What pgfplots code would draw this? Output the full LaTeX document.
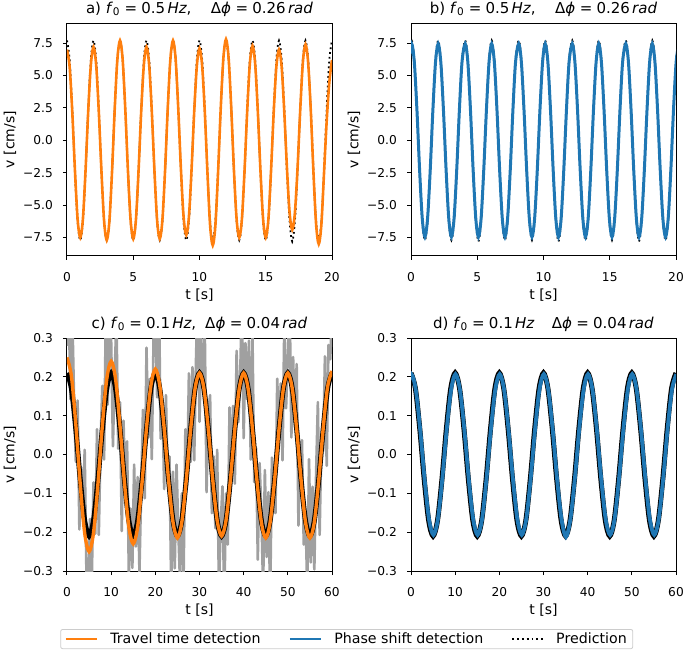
\documentclass[border=0pt]{standalone}
\usepackage{fontspec}
\setmainfont{DejaVu Sans}
\usepackage{pgfplots}
\pgfplotsset{compat=1.18}
\definecolor{mplorange}{HTML}{FF7F0E}
\definecolor{mplblue}{HTML}{1F77B4}
\definecolor{mplgray}{RGB}{160,160,160}
\definecolor{legframe}{RGB}{204,204,204}
\newcommand{\fs}{\fontsize{12.2}{14}\selectfont}
\newcommand{\fl}{\fontsize{14}{16}\selectfont}
\newcommand{\ft}{\fontsize{15}{17}\selectfont}
\newcommand{\eq}{\hspace{0.3em}=\hspace{0.28em}}
\pgfplotsset{
  myaxis/.style={
    scale only axis, width=265pt, height=233pt,
    axis line style={black, line width=1pt},
    tick align=outside, tick pos=left,
    major tick length=4pt,
    tick style={black, line width=1pt},
    ticklabel style={font=\fs, inner sep=0pt},
    yticklabel style={anchor=east, xshift=-10pt},
    xticklabel style={anchor=north, yshift=-12pt},
    label style={font=\fl},
    ylabel={v [cm/s]}, xlabel={t [s]},
    ylabel style={at={(axis description cs:-0.215,0.5)}, anchor=center},
    xlabel style={at={(axis description cs:0.5,0)}, anchor=center, yshift=-39pt},
    title style={font=\ft, at={(axis description cs:0.5,1)}, anchor=base, yshift=4pt},
  },
  toprow/.style={myaxis, xmin=0, xmax=20, ymin=-8.92, ymax=9.05,
    xtick={0,5,10,15,20}, xticklabels={0,5,10,15,20},
    ytick={-7.5,-5,-2.5,0,2.5,5,7.5},
    yticklabels={−7.5,−5.0,−2.5,0.0,2.5,5.0,7.5}},
  botrow/.style={myaxis, xmin=0, xmax=60, ymin=-0.3, ymax=0.3,
    xtick={0,10,20,30,40,50,60}, xticklabels={0,10,20,30,40,50,60},
    ytick={-0.3,-0.2,-0.1,0,0.1,0.2,0.3},
    yticklabels={−0.3,−0.2,−0.1,0.0,0.1,0.2,0.3}},
  pred/.style={black, line width=1.8pt, dash pattern=on 1.8pt off 3pt},
}
\newcommand{\predcd}{(0,0.210)(1,0.170)(2,0.065)(3,-0.065)(4,-0.170)(5,-0.210)(6,-0.170)(7,-0.065)(8,0.065)(9,0.170)
(10,0.210)(11,0.170)(12,0.065)(13,-0.065)(14,-0.170)(15,-0.210)(16,-0.170)(17,-0.065)(18,0.065)(19,0.170)
(20,0.210)(21,0.170)(22,0.065)(23,-0.065)(24,-0.170)(25,-0.210)(26,-0.170)(27,-0.065)(28,0.065)(29,0.170)
(30,0.210)(31,0.170)(32,0.065)(33,-0.065)(34,-0.170)(35,-0.210)(36,-0.170)(37,-0.065)(38,0.065)(39,0.170)
(40,0.210)(41,0.170)(42,0.065)(43,-0.065)(44,-0.170)(45,-0.210)(46,-0.170)(47,-0.065)(48,0.065)(49,0.170)
(50,0.210)(51,0.170)(52,0.065)(53,-0.065)(54,-0.170)(55,-0.210)(56,-0.170)(57,-0.065)(58,0.065)(59,0.170)(60,0.210)}
\begin{document}
\begin{tikzpicture}[font=\fs]
\useasboundingbox (0,0) rectangle (685pt,-656pt);
% ---------------- a)
\begin{axis}[toprow, at={(67pt,-23pt)}, anchor=north west,
  title={a) \textit{f}\textsubscript{0}\eq0.5\hspace{0.15em}\textit{Hz},\hspace{1.3em}Δ\textit{ϕ}\eq0.26\hspace{0.15em}\textit{rad}}]
\addplot[pred, smooth] coordinates {
(0,7.7)(0.2,6.23)(0.4,2.38)(0.6,-2.38)(0.8,-6.23)(1,-7.7)(1.2,-6.23)(1.4,-2.38)(1.6,2.38)(1.8,6.23)
(2,7.7)(2.2,6.23)(2.4,2.38)(2.6,-2.38)(2.8,-6.23)(3,-7.7)(3.2,-6.23)(3.4,-2.38)(3.6,2.38)(3.8,6.23)
(4,7.7)(4.2,6.23)(4.4,2.38)(4.6,-2.38)(4.8,-6.23)(5,-7.7)(5.2,-6.23)(5.4,-2.38)(5.6,2.38)(5.8,6.23)
(6,7.7)(6.2,6.23)(6.4,2.38)(6.6,-2.38)(6.8,-6.23)(7,-7.7)(7.2,-6.23)(7.4,-2.38)(7.6,2.38)(7.8,6.23)
(8,7.7)(8.2,6.23)(8.4,2.38)(8.6,-2.38)(8.8,-6.23)(9,-7.7)(9.2,-6.23)(9.4,-2.38)(9.6,2.38)(9.8,6.23)
(10,7.7)(10.2,6.23)(10.4,2.38)(10.6,-2.38)(10.8,-6.23)(11,-7.8)(11.2,-6.23)(11.4,-2.38)(11.6,2.38)(11.8,6.23)
(12,7.7)(12.2,6.23)(12.4,2.38)(12.6,-2.38)(12.8,-6.23)(13,-7.7)(13.2,-6.23)(13.4,-2.38)(13.6,2.38)(13.8,6.23)
(14,7.7)(14.2,6.23)(14.4,2.38)(14.6,-2.38)(14.8,-6.23)(15,-7.7)(15.2,-6.23)(15.4,-2.38)(15.6,2.38)(15.8,6.23)
(16,7.7)(16.2,6.23)(16.4,2.38)(16.6,-2.38)(16.8,-6.23)(17,-7.8)(17.2,-6.23)(17.4,-2.38)(17.6,2.38)(17.8,6.23)
(18,7.7)(18.2,6.23)(18.4,2.38)(18.6,-2.38)(18.8,-6.23)(19,-7.7)(19.2,-6.23)(19.4,-2.38)(19.6,2.38)(19.8,6.23)(20,7.7)};
\addplot[mplorange, line width=2.6pt, smooth] coordinates {
(0,7.0)(0.2,5.66)(0.4,2.16)(0.6,-2.32)(0.8,-6.07)(1,-7.5)(1.2,-6.07)(1.4,-2.32)(1.6,2.22)(1.8,5.82)
(2,7.2)(2.2,5.82)(2.4,2.22)(2.6,-2.38)(2.8,-6.23)(3,-7.7)(3.2,-6.23)(3.4,-2.38)(3.6,2.38)(3.8,6.23)
(4,7.7)(4.2,6.23)(4.4,2.38)(4.6,-2.35)(4.8,-6.15)(5,-7.6)(5.2,-6.15)(5.4,-2.35)(5.6,2.22)(5.8,5.82)
(6,7.2)(6.2,5.82)(6.4,2.22)(6.6,-2.35)(6.8,-6.15)(7,-7.6)(7.2,-6.15)(7.4,-2.35)(7.6,2.38)(7.8,6.23)
(8,7.7)(8.2,6.23)(8.4,2.38)(8.6,-2.26)(8.8,-5.91)(9,-7.3)(9.2,-5.91)(9.4,-2.26)(9.6,2.19)(9.8,5.74)
(10,7.1)(10.2,5.74)(10.4,2.19)(10.6,-2.50)(10.8,-6.55)(11,-8.1)(11.2,-6.55)(11.4,-2.50)(11.6,2.41)(11.8,6.31)
(12,7.8)(12.2,6.31)(12.4,2.41)(12.6,-2.32)(12.8,-6.07)(13,-7.5)(13.2,-6.07)(13.4,-2.32)(13.6,2.26)(13.8,5.91)
(14,7.3)(14.2,5.91)(14.4,2.26)(14.6,-2.32)(14.8,-6.07)(15,-7.5)(15.2,-6.07)(15.4,-2.32)(15.6,2.16)(15.8,5.66)
(16,7.0)(16.2,5.66)(16.4,2.16)(16.6,-2.13)(16.8,-5.58)(17,-6.9)(17.2,-5.58)(17.4,-2.13)(17.6,2.29)(17.8,5.99)
(18,7.4)(18.2,5.99)(18.4,2.29)(18.6,-2.47)(18.8,-6.47)(19,-8.0)(19.2,-6.47)(19.4,-2.47)(19.6,1.5)(19.8,4.5)(20,6.2)};
\end{axis}
% ---------------- b)
\begin{axis}[toprow, at={(411pt,-23pt)}, anchor=north west,
  title={b) \textit{f}\textsubscript{0}\eq0.5\hspace{0.15em}\textit{Hz},\hspace{1.3em}Δ\textit{ϕ}\eq0.26\hspace{0.15em}\textit{rad}}]
\addplot[pred, smooth] coordinates {
(-0.15,6.23)(0.05,7.7)(0.25,6.23)(0.45,2.38)(0.65,-2.38)(0.85,-6.23)(1.05,-7.7)(1.25,-6.23)(1.45,-2.38)(1.65,2.38)(1.85,6.23)
(2.05,7.7)(2.25,6.23)(2.45,2.38)(2.65,-2.38)(2.85,-6.23)(3.05,-7.7)(3.25,-6.23)(3.45,-2.38)(3.65,2.38)(3.85,6.23)
(4.09,7.7)(4.29,6.23)(4.49,2.38)(4.69,-2.38)(4.89,-6.23)(5.09,-7.8)(5.29,-6.23)(5.49,-2.38)(5.69,2.38)(5.89,6.23)
(6.09,7.7)(6.29,6.23)(6.49,2.38)(6.69,-2.38)(6.89,-6.23)(7.09,-7.7)(7.29,-6.23)(7.49,-2.38)(7.69,2.38)(7.89,6.23)
(8.13,7.7)(8.33,6.23)(8.53,2.38)(8.73,-2.38)(8.93,-6.23)(9.13,-7.7)(9.33,-6.23)(9.53,-2.38)(9.73,2.38)(9.93,6.23)
(10.13,7.7)(10.33,6.23)(10.53,2.38)(10.73,-2.38)(10.93,-6.23)(11.13,-7.8)(11.33,-6.23)(11.53,-2.38)(11.73,2.38)(11.93,6.23)
(12.17,7.7)(12.37,6.23)(12.57,2.38)(12.77,-2.38)(12.97,-6.23)(13.17,-7.7)(13.37,-6.23)(13.57,-2.38)(13.77,2.38)(13.97,6.23)
(14.17,7.7)(14.37,6.23)(14.57,2.38)(14.77,-2.38)(14.97,-6.23)(15.17,-7.7)(15.37,-6.23)(15.57,-2.38)(15.77,2.38)(15.97,6.23)
(16.21,7.7)(16.41,6.23)(16.61,2.38)(16.81,-2.38)(17.01,-6.23)(17.21,-7.8)(17.41,-6.23)(17.61,-2.38)(17.81,2.38)(18.01,6.23)
(18.21,7.7)(18.41,6.23)(18.61,2.38)(18.81,-2.38)(19.01,-6.23)(19.21,-7.7)(19.41,-6.23)(19.61,-2.38)(19.81,2.38)(20.01,6.23)(20.21,7.7)};
\addplot[mplblue, line width=3pt, smooth] coordinates {
(-0.15,6.03)(0.05,7.45)(0.25,6.03)(0.45,2.30)(0.65,-2.30)(0.85,-6.03)(1.05,-7.45)(1.25,-6.03)(1.45,-2.30)(1.65,2.30)(1.85,6.03)
(2.05,7.45)(2.25,6.03)(2.45,2.30)(2.65,-2.30)(2.85,-6.03)(3.05,-7.45)(3.25,-6.03)(3.45,-2.30)(3.65,2.30)(3.85,6.03)
(4.09,7.45)(4.29,6.03)(4.49,2.30)(4.69,-2.30)(4.89,-6.03)(5.09,-7.45)(5.29,-6.03)(5.49,-2.30)(5.69,2.30)(5.89,6.03)
(6.09,7.45)(6.29,6.03)(6.49,2.30)(6.69,-2.30)(6.89,-6.03)(7.09,-7.45)(7.29,-6.03)(7.49,-2.30)(7.69,2.30)(7.89,6.03)
(8.13,7.45)(8.33,6.03)(8.53,2.30)(8.73,-2.30)(8.93,-6.03)(9.13,-7.45)(9.33,-6.03)(9.53,-2.30)(9.73,2.30)(9.93,6.03)
(10.13,7.45)(10.33,6.03)(10.53,2.30)(10.73,-2.30)(10.93,-6.03)(11.13,-7.45)(11.33,-6.03)(11.53,-2.30)(11.73,2.30)(11.93,6.03)
(12.17,7.45)(12.37,6.03)(12.57,2.30)(12.77,-2.30)(12.97,-6.03)(13.17,-7.45)(13.37,-6.03)(13.57,-2.30)(13.77,2.30)(13.97,6.03)
(14.17,7.45)(14.37,6.03)(14.57,2.30)(14.77,-2.30)(14.97,-6.03)(15.17,-7.45)(15.37,-6.03)(15.57,-2.30)(15.77,2.30)(15.97,6.03)
(16.21,7.45)(16.41,6.03)(16.61,2.30)(16.81,-2.30)(17.01,-6.03)(17.21,-7.45)(17.41,-6.03)(17.61,-2.30)(17.81,2.30)(18.01,6.03)
(18.21,7.45)(18.41,6.03)(18.61,2.30)(18.81,-2.30)(19.01,-6.03)(19.21,-7.45)(19.41,-6.03)(19.61,-2.30)(19.81,2.30)(20.01,6.03)(20.21,7.45)};
\end{axis}
% ---------------- c)
\begin{axis}[botrow, at={(67pt,-338pt)}, anchor=north west,
  title={c) \textit{f}\textsubscript{0}\eq0.1\hspace{0.15em}\textit{Hz},\hspace{0.6em}Δ\textit{ϕ}\eq0.04\hspace{0.15em}\textit{rad}}]
\addplot[mplgray, line width=2.6pt, line join=round] coordinates {
(0,0.280)(0.4,0.371)(0.8,0.142)(1.2,0.363)(1.6,0.141)(2,-0.019)(2.4,0.139)(2.8,-0.193)(3.2,-0.033)(3.6,-0.162)
(4,0.012)(4.4,-0.307)(4.8,-0.404)(5.2,-0.166)(5.6,-0.335)(6,-0.072)(6.4,-0.204)(6.8,0.065)(7.2,-0.207)(7.6,0.027)
(8,0.177)(8.4,-0.013)(8.8,0.377)(9.2,0.128)(9.6,0.343)
(10,0.294)(10.4,0.021)(10.8,0.212)(11.2,0.349)(11.6,0.015)(12,0.135)(12.4,-0.197)(12.8,0.087)(13.2,-0.103)(13.6,0.034)
(14,-0.310)(14.4,-0.139)(14.8,-0.292)(15.2,-0.026)(15.6,-0.237)(16,-0.058)(16.4,-0.302)(16.8,-0.089)(17.2,0.115)(17.6,-0.113)
(18,0.275)(18.4,0.043)(18.8,0.195)(19.2,-0.012)(19.6,0.301)
(20,0.378)(20.4,0.147)(20.8,0.436)(21.2,0.041)(21.6,0.141)(22,-0.089)(22.4,0.153)(22.8,-0.067)(23.2,-0.005)(23.6,-0.358)
(24,-0.044)(24.4,-0.293)(24.8,-0.026)(25.2,-0.194)(25.6,-0.335)(26,-0.100)(26.4,-0.316)(26.8,0.065)(27.2,-0.081)(27.6,0.209)
(28,-0.019)(28.4,0.225)(28.8,-0.015)(29.2,0.240)(29.6,0.427)
(30,0.084)(30.4,0.301)(30.8,0.170)(31.2,0.321)(31.6,-0.097)(32,0.107)(32.4,0.153)(32.8,-0.151)(33.2,-0.005)(33.6,-0.190)
(34,0.012)(34.4,-0.349)(34.8,-0.180)(35.2,-0.082)(35.6,-0.391)(36,-0.100)(36.4,-0.232)(36.8,0.121)(37.2,-0.067)(37.6,0.125)
(38,-0.075)(38.4,0.267)(38.8,0.083)(39.2,0.198)(39.6,0.399)
(40,0.042)(40.4,0.287)(40.8,0.142)(41.2,0.293)(41.6,-0.013)(42,0.303)(42.4,-0.071)(42.8,0.017)(43.2,-0.271)(43.6,-0.022)
(44,-0.142)(44.4,-0.349)(44.8,-0.040)(45.2,-0.264)(45.6,-0.097)(46,-0.380)(46.4,-0.008)(46.8,-0.089)(47.2,-0.151)(47.6,0.195)
(48,0.037)(48.4,0.183)(48.8,-0.015)(49.2,0.338)(49.6,0.119)
(50,0.252)(50.4,0.413)(50.8,0.044)(51.2,0.251)(51.6,0.071)(52,0.233)(52.4,-0.183)(52.8,0.017)(53.2,0.037)(53.6,-0.232)
(54,-0.156)(54.4,-0.349)(54.8,-0.012)(55.2,-0.278)(55.6,-0.083)(56,-0.296)(56.4,-0.050)(56.8,0.135)(57.2,-0.207)(57.6,0.041)
(58,0.009)(58.4,0.253)(58.8,-0.029)(59.2,0.282)(59.6,0.245)(60,0.364)};
\addplot[black, line width=5pt, smooth] coordinates {\predcd};
\addplot[mplorange, line width=3.4pt, smooth] coordinates {
(0,0.25)(1,0.202)(2,0.077)(3,-0.077)(4,-0.202)(5,-0.25)(6,-0.202)(7,-0.077)(8,0.074)(9,0.194)
(10,0.24)(11,0.194)(12,0.074)(13,-0.071)(14,-0.186)(15,-0.23)(16,-0.186)(17,-0.071)(18,0.068)(19,0.178)
(20,0.22)(21,0.178)(22,0.068)(23,-0.066)(24,-0.174)(25,-0.215)(26,-0.174)(27,-0.066)(28,0.065)(29,0.170)
(30,0.21)(31,0.170)(32,0.065)(33,-0.065)(34,-0.170)(35,-0.21)(36,-0.170)(37,-0.065)(38,0.065)(39,0.170)
(40,0.21)(41,0.170)(42,0.065)(43,-0.066)(44,-0.174)(45,-0.215)(46,-0.174)(47,-0.066)(48,0.065)(49,0.170)
(50,0.21)(51,0.170)(52,0.065)(53,-0.066)(54,-0.174)(55,-0.215)(56,-0.174)(57,-0.066)(58,0.066)(59,0.174)(60,0.215)};
\end{axis}
% ---------------- d)
\begin{axis}[botrow, at={(411pt,-338pt)}, anchor=north west,
  title={d) \textit{f}\textsubscript{0}\eq0.1\hspace{0.15em}\textit{Hz}\hspace{1.15em}Δ\textit{ϕ}\eq0.04\hspace{0.15em}\textit{rad}},
  legend style={at={(axis description cs:-0.2425,-0.249)}, anchor=north,
    legend columns=3, draw=legframe, line width=0.8pt, rounded corners=2pt,
    font=\fontsize{14.2}{16}\selectfont, inner xsep=4pt, inner ysep=1.5pt,
    cells={inner xsep=0pt},
    /tikz/every odd column/.append style={column sep=10pt},
    /tikz/every even column/.append style={column sep=26pt}},
  legend cell align=left,
  legend image code/.code={\draw[#1] (0pt,0pt) -- (31pt,0pt);}]
\addplot[black, line width=5pt, smooth, forget plot] coordinates {\predcd};
\addplot[mplblue, line width=3.8pt, smooth, forget plot] coordinates {
(-0.92,0.167)(0.08,0.207)(1.08,0.167)(2.08,0.064)(3.08,-0.064)(4.08,-0.167)(5.08,-0.207)(6.08,-0.167)(7.08,-0.064)(8.08,0.064)(9.08,0.167)
(10.08,0.207)(11.08,0.167)(12.08,0.064)(13.08,-0.064)(14.08,-0.167)(15.08,-0.207)(16.08,-0.167)(17.08,-0.064)(18.08,0.064)(19.08,0.167)
(20.08,0.207)(21.08,0.167)(22.08,0.064)(23.08,-0.064)(24.08,-0.167)(25.08,-0.207)(26.08,-0.167)(27.08,-0.064)(28.08,0.064)(29.08,0.167)
(30.08,0.207)(31.08,0.167)(32.08,0.064)(33.08,-0.064)(34.08,-0.167)(35.08,-0.212)(36.08,-0.167)(37.08,-0.064)(38.08,0.064)(39.08,0.167)
(40.08,0.207)(41.08,0.167)(42.08,0.064)(43.08,-0.064)(44.08,-0.167)(45.08,-0.207)(46.08,-0.167)(47.08,-0.064)(48.08,0.064)(49.08,0.167)
(50.08,0.207)(51.08,0.167)(52.08,0.064)(53.08,-0.064)(54.08,-0.167)(55.08,-0.207)(56.08,-0.167)(57.08,-0.064)(58.08,0.064)(59.08,0.167)(60.08,0.207)};
\addlegendimage{mplorange, line width=2.6pt}
\addlegendentry{Travel time detection}
\addlegendimage{mplblue, line width=2.6pt}
\addlegendentry{Phase shift detection}
\addlegendimage{black, line width=1.8pt, dash pattern=on 1.8pt off 3pt}
\addlegendentry{Prediction}
\end{axis}
\end{tikzpicture}
\end{document}
